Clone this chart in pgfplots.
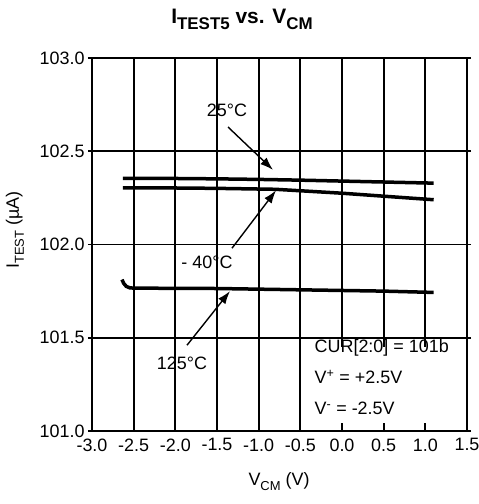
\documentclass[border=0pt]{standalone}
\usepackage{pgfplots}
\pgfplotsset{compat=1.18}
\usepackage{fontspec}
\setmainfont{Liberation Sans}
\usetikzlibrary{arrows.meta}
\newcommand{\bigf}{\fontsize{18}{21.6}\selectfont}
\newcommand{\sub}[2]{\raisebox{-0.28em}{\fontsize{#1}{#1}\selectfont #2}}
\begin{document}
\begin{tikzpicture}
\path[use as bounding box] (-92bp,-73bp) rectangle (387bp,431bp);
\begin{axis}[
  at={(0,0)}, anchor=south west,
  scale only axis, width=375bp, height=373bp,
  xmin=-3, xmax=1.5, ymin=101, ymax=103,
  xtick={-3,-2.5,-2,-1.5,-1,-0.5,0,0.5,1,1.5},
  xticklabels={-3.0,-2.5,-2.0,-1.5,-1.0,-0.5,0.0,0.5,1.0,1.5},
  ytick={101,101.5,102,102.5,103},
  yticklabels={101.0,101.5,102.0,102.5,103.0},
  tick label style={font=\bigf},
  tick align=outside, major tick length=4bp,
  xtick style={draw=none},
  ytick style={line width=1.9bp, black},
  grid=major,
  major grid style={line width=1.9bp, black},
  axis line style={line width=2.2bp, black},
  clip=false,
]
\addplot[line width=3.5bp, black] coordinates {
 (-2.63,102.355) (-2.0,102.354) (-1.5,102.352) (-1.0,102.349) (-0.5,102.345) (0,102.34) (0.5,102.335) (1.1,102.329)};
\addplot[line width=3.5bp, black] coordinates {
 (-2.63,102.304) (-2.0,102.303) (-1.5,102.301) (-0.8,102.296) (0,102.275) (0.5,102.259) (1.1,102.24)};
\addplot[line width=3.5bp, black] coordinates {
 (-2.64,101.812) (-2.62,101.792) (-2.59,101.776) (-2.55,101.768) (-2.5,101.766) (-1.5,101.764) (-0.5,101.757) (0.5,101.75) (1.1,101.743)};
\fill[white] (axis cs:-0.485,101.452) rectangle (axis cs:1.483,101.045);
\node[font=\bigf, anchor=west] at (axis cs:-0.37,101.445) {CUR[2:0] = 101b};
\node[font=\bigf, anchor=west] at (axis cs:-0.37,101.29) {V\textsuperscript{+} = +2.5V};
\node[font=\bigf, anchor=west] at (axis cs:-0.37,101.12) {V\textsuperscript{-} = -2.5V};
\node[font=\bigf] at (axis cs:-1.38,102.72) {25°C};
\node[font=\bigf] at (axis cs:-1.62,101.906) {- 40°C};
\node[font=\bigf] at (axis cs:-1.92,101.365) {125°C};
\draw[line width=1.4bp, -{Latex[length=13bp,width=9bp]}] (axis cs:-1.368,102.63) -- (axis cs:-0.828,102.40);
\draw[line width=1.4bp, -{Latex[length=13bp,width=9bp]}] (axis cs:-1.32,101.98) -- (axis cs:-0.792,102.29);
\draw[line width=1.4bp, -{Latex[length=13bp,width=9bp]}] (axis cs:-1.86,101.46) -- (axis cs:-1.344,101.75);
\end{axis}
\node[font=\fontsize{21}{24}\selectfont\bfseries] at (150bp,412bp) {I\sub{17}{TEST5} vs. V\sub{17}{CM}};
\node[font=\bigf, rotate=90] at (-77bp,201bp) {I\sub{13}{TEST} (µA)};
\node[font=\bigf] at (187bp,-51bp) {V\sub{13}{CM} (V)};
\end{tikzpicture}
\end{document}
